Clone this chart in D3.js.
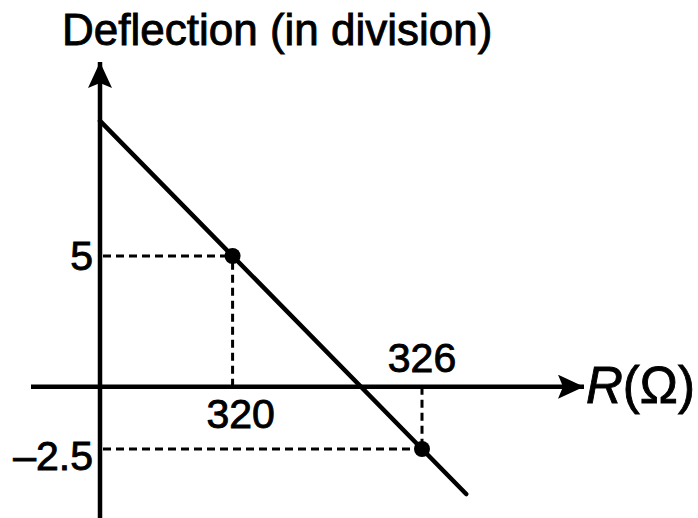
<!DOCTYPE html>
<html>
<head>
<meta charset="utf-8">
<script src="https://cdn.jsdelivr.net/npm/d3@7/dist/d3.min.js"></script>
<style>
  html, body { margin: 0; padding: 0; background: #fff; }
  svg { display: block; }
  text {
    font-family: "Liberation Sans", Arial, Helvetica, sans-serif;
    fill: #000;
    stroke: #000;
    stroke-width: 0.9px;
  }
</style>
</head>
<body>
<svg id="chart" width="698" height="518"></svg>
<script>
// Measured readings: resistance (Ω) against galvanometer deflection (divisions)
const resistance = [320, 326];
const deflection = [5, -2.5];

// Straight-line fit through the readings, drawn from the deflection axis outward
const lineResistance = [315.8, 327.4];
const lineDeflection = [10.25, -4.25];

// Tick labels
const xTickLabels = ["320", "326"];
const yTickLabels = ["5", "\u20132.5"];

const svg = d3.select("#chart");

// Scales (schematic axes: the deflection axis sits at R = 315.8 Ω)
const x = d3.scaleLinear().domain([315.8, 326]).range([100, 422]);
const y = d3.scaleLinear().domain([-2.5, 5]).range([449, 256]);

const x0 = x(315.8);   // position of the deflection axis
const y0 = y(0) + 2;   // position of the resistance axis

const ink = "#000";

// Arrowheads
const defs = svg.append("defs");
defs.append("marker")
  .attr("id", "arrow")
  .attr("viewBox", "0 0 26 24")
  .attr("refX", 26).attr("refY", 12)
  .attr("markerWidth", 26).attr("markerHeight", 24)
  .attr("markerUnits", "userSpaceOnUse")
  .attr("orient", "auto")
  .append("path")
  .attr("d", "M0,0 L26,12 L0,24 L5,12 Z")
  .attr("fill", ink);

// Deflection axis (vertical)
svg.append("line")
  .attr("x1", x0).attr("y1", 518)
  .attr("x2", x0).attr("y2", 62)
  .attr("stroke", ink).attr("stroke-width", 4.5)
  .attr("marker-end", "url(#arrow)");

// Resistance axis (horizontal)
svg.append("line")
  .attr("x1", 31).attr("y1", y0)
  .attr("x2", 584).attr("y2", y0)
  .attr("stroke", ink).attr("stroke-width", 4.5)
  .attr("marker-end", "url(#arrow)");

// Dashed guides from each reading to both axes
const readings = resistance.map((r, i) => ({ r, d: deflection[i] }));
const guides = svg.append("g")
  .attr("stroke", ink).attr("stroke-width", 3)
  .attr("stroke-dasharray", "8,5").attr("fill", "none");
readings.forEach(p => {
  guides.append("line")
    .attr("x1", x0 + 3).attr("y1", y(p.d))
    .attr("x2", x(p.r)).attr("y2", y(p.d));
  guides.append("line")
    .attr("x1", x(p.r)).attr("y1", y0)
    .attr("x2", x(p.r)).attr("y2", y(p.d));
});

// Fitted straight line
const fit = lineResistance.map((r, i) => [r, lineDeflection[i]]);
svg.append("path")
  .datum(fit)
  .attr("d", d3.line().x(d => x(d[0])).y(d => y(d[1])))
  .attr("stroke", ink).attr("stroke-width", 4.5)
  .attr("stroke-linecap", "round")
  .attr("fill", "none");

// Reading markers
svg.selectAll("circle.reading")
  .data(readings)
  .join("circle")
  .attr("class", "reading")
  .attr("cx", d => x(d.r))
  .attr("cy", d => y(d.d))
  .attr("r", 8)
  .attr("fill", ink);

// Resistance tick labels: 320 below the axis, 326 above it
svg.append("text")
  .attr("x", x(resistance[0]) + 8).attr("y", 428)
  .attr("text-anchor", "middle")
  .attr("font-size", 41)
  .text(xTickLabels[0]);
svg.append("text")
  .attr("x", x(resistance[1])).attr("y", 372)
  .attr("text-anchor", "middle")
  .attr("font-size", 41)
  .text(xTickLabels[1]);

// Deflection tick labels
svg.append("text")
  .attr("x", 93).attr("y", y(deflection[0]) + 14)
  .attr("text-anchor", "end")
  .attr("font-size", 41)
  .text(yTickLabels[0]);
svg.append("text")
  .attr("x", 93).attr("y", y(deflection[1]) + 21)
  .attr("text-anchor", "end")
  .attr("font-size", 41)
  .text(yTickLabels[1]);

// Axis titles
svg.append("text")
  .attr("x", 62).attr("y", 45)
  .attr("font-size", 44)
  .text("Deflection (in division)");

const rTitle = svg.append("text")
  .attr("x", 586).attr("y", 403)
  .attr("font-size", 51);
rTitle.append("tspan").attr("font-style", "italic").text("R");
rTitle.append("tspan").text("(\u03A9)");
</script>
</body>
</html>
